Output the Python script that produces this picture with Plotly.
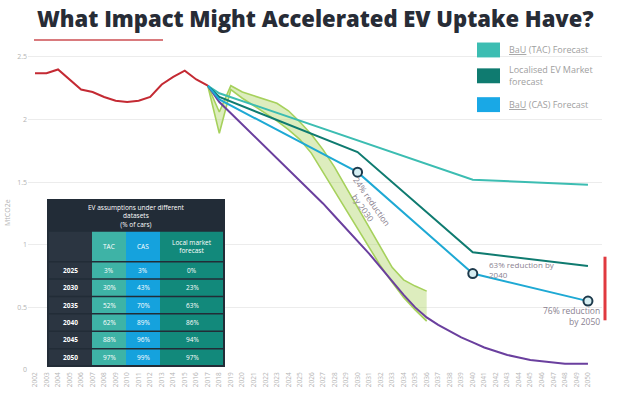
import plotly.graph_objects as go

# ---------------- data ----------------
years_axis = list(range(2002, 2051))

hist_years = list(range(2002, 2018))
hist_vals = [2.37, 2.37, 2.40, 2.32, 2.24, 2.22, 2.18, 2.15, 2.14, 2.15,
             2.18, 2.28, 2.34, 2.39, 2.32, 2.27]

tac_years = [2017, 2018, 2040, 2050]
tac_vals = [2.27, 2.21, 1.52, 1.48]

local_years = [2017, 2018, 2030, 2040, 2050]
local_vals = [2.27, 2.18, 1.74, 0.94, 0.83]

cas_years = [2017, 2018, 2030, 2040, 2050]
cas_vals = [2.27, 2.16, 1.58, 0.77, 0.55]

fast_years = list(range(2017, 2051))
fast_vals = [2.27, 2.14, 2.05, 1.96, 1.87, 1.78, 1.69, 1.60, 1.51, 1.42,
             1.33, 1.23, 1.13, 1.03, 0.93, 0.82, 0.71, 0.60, 0.50, 0.42,
             0.36, 0.31, 0.26, 0.22, 0.18, 0.15, 0.12, 0.10, 0.08, 0.07,
             0.06, 0.05, 0.05, 0.05]

band_years = list(range(2017, 2037))
band_hi = [2.27, 2.06, 2.27, 2.22, 2.19, 2.16, 2.13, 2.07, 1.98, 1.88,
           1.76, 1.62, 1.46, 1.30, 1.14, 0.99, 0.82, 0.72, 0.67, 0.63]
band_lo = [2.27, 1.89, 2.24, 2.17, 2.11, 2.05, 1.99, 1.92, 1.84, 1.73,
           1.58, 1.43, 1.28, 1.12, 0.97, 0.83, 0.70, 0.58, 0.48, 0.39]

milestone_years = [2030, 2040, 2050]
milestone_vals = [1.58, 0.77, 0.55]
milestone_text = ["24% reduction<br>by 2030", "63% reduction by<br>2040",
                  "76% reduction<br>by 2050"]

y_ticks = [0, 0.5, 1, 1.5, 2, 2.5]
y_tick_text = ["0", "0.5", "1", "1.5", "2", "2.5"]

table_years = ["2025", "2030", "2035", "2040", "2045", "2050"]
table_tac = ["3%", "30%", "52%", "62%", "88%", "97%"]
table_cas = ["3%", "43%", "70%", "89%", "96%", "99%"]
table_local = ["0%", "23%", "63%", "86%", "94%", "97%"]

legend_labels = ["<span style='text-decoration:underline'>BaU</span> (TAC) Forecast",
                 "Localised EV Market<br>forecast",
                 "<span style='text-decoration:underline'>BaU</span> (CAS) Forecast"]

# ---------------- colours ----------------
C_HIST = "#c42a33"
C_TAC = "#3cbdb2"
C_LOCAL = "#0f7b70"
C_CAS = "#1ea9d4"
C_CAS_SWATCH = "#19a8e6"
C_FAST = "#6a3f9e"
C_BAND_EDGE = "#a6d15c"
C_BAND_FILL = "rgba(180,215,110,0.45)"
C_TEXT = "#8a8290"
FONT = "Open Sans"

# ---------------- canvas geometry ----------------
W, H = 621, 399
ML, MR, MT, MB = 28, 19, 45, 27
PW, PH = W - ML - MR, H - MT - MB
X0_PX, PX_PER_YEAR = 35, 11.52
PX_PER_UNIT = 126.0
x_range = [2002 + (ML - X0_PX) / PX_PER_YEAR, 2002 + (W - MR - X0_PX) / PX_PER_YEAR]
y_range = [0, PH / PX_PER_UNIT]


def px(x):
    return (x - ML) / PW


def py(y):
    return (H - MB - y) / PH


fig = go.Figure()

# fast-uptake band
fig.add_trace(go.Scatter(x=band_years, y=band_hi, mode="lines",
                         line=dict(color=C_BAND_EDGE, width=1.6),
                         showlegend=False, hoverinfo="skip"))
fig.add_trace(go.Scatter(x=band_years, y=band_lo, mode="lines",
                         line=dict(color=C_BAND_EDGE, width=1.6),
                         fill="tonexty", fillcolor=C_BAND_FILL,
                         showlegend=False, hoverinfo="skip"))

fig.add_trace(go.Scatter(x=fast_years, y=fast_vals, mode="lines",
                         line=dict(color=C_FAST, width=2), showlegend=False))
fig.add_trace(go.Scatter(x=tac_years, y=tac_vals, mode="lines",
                         line=dict(color=C_TAC, width=2), showlegend=False))
fig.add_trace(go.Scatter(x=local_years, y=local_vals, mode="lines",
                         line=dict(color=C_LOCAL, width=2), showlegend=False))
fig.add_trace(go.Scatter(x=cas_years, y=cas_vals, mode="lines",
                         line=dict(color=C_CAS, width=2), showlegend=False))
fig.add_trace(go.Scatter(x=hist_years, y=hist_vals, mode="lines",
                         line=dict(color=C_HIST, width=2), showlegend=False))
fig.add_trace(go.Scatter(x=milestone_years, y=milestone_vals, mode="markers",
                         marker=dict(size=9, color="#d6eef2",
                                     line=dict(color="#1d3a4c", width=2)),
                         showlegend=False))

shapes = []
annotations = []


def label(x, y, text, size, color, xanchor="center", yanchor="middle",
          align="center", ref="paper", angle=0, weight=None):
    f = dict(family=FONT, size=size, color=color)
    if weight is not None:
        f["weight"] = weight
    annotations.append(dict(xref=ref, yref=ref, x=x, y=y, text=text,
                            showarrow=False, xanchor=xanchor, yanchor=yanchor,
                            align=align, textangle=angle, font=f))


# title and underline
label(px(315), py(18), "What Impact Might Accelerated EV Uptake Have?", 22,
      "#272c36", weight=800)
shapes.append(dict(type="line", xref="paper", yref="paper",
                   x0=px(34), x1=px(163), y0=py(40), y1=py(40),
                   line=dict(color="#d97a7d", width=2)))

# y-axis title
label(px(8), py(214), "MtCO2e", 7, "#b0b0b0", angle=-90)

# milestone labels (data coordinates)
label(2030.9, 1.32, milestone_text[0], 8.5, C_TEXT, angle=55)
label(2041.2, 0.80, milestone_text[1], 8, C_TEXT, xanchor="left", align="left")
label(2051.2, 0.43, milestone_text[2], 8.5, C_TEXT, xanchor="right", align="right")
for a in annotations[-3:]:
    a["xref"], a["yref"] = "x", "y"

# red marker bar at the right edge
shapes.append(dict(type="line", xref="paper", yref="paper",
                   x0=px(605), x1=px(605), y0=py(258), y1=py(322),
                   line=dict(color="#e0393f", width=3)))

# custom legend
legend_colors = [C_TAC, C_LOCAL, C_CAS_SWATCH]
legend_y = [50, 76, 105]
for col, yc, lab in zip(legend_colors, legend_y, legend_labels):
    shapes.append(dict(type="rect", xref="paper", yref="paper",
                       x0=px(477), x1=px(500), y0=py(yc - 7.5), y1=py(yc + 7.5),
                       fillcolor=col, line=dict(width=0)))
    label(px(507), py(yc), lab, 9, "#a0a0a0", xanchor="left", align="left")

# assumptions table
TX0, TX1 = 48, 224
TY0, TY_HEAD, TY_ROWS, TY1 = 201, 233, 263, 368
col_edges = [48, 92, 126, 160, 224]
col_fill = ["#2b3541", "#3eb3a6", "#15a2dd", "#12897b"]
dark = "#222c37"
shapes.append(dict(type="rect", xref="paper", yref="paper",
                   x0=px(TX0), x1=px(TX1), y0=py(TY0), y1=py(TY1),
                   fillcolor=dark, line=dict(width=0)))
for i in range(4):
    shapes.append(dict(type="rect", xref="paper", yref="paper",
                       x0=px(col_edges[i]), x1=px(col_edges[i + 1]),
                       y0=py(TY_HEAD), y1=py(TY1),
                       fillcolor=col_fill[i], line=dict(width=0)))
label(px((TX0 + TX1) / 2), py((TY0 + TY_HEAD) / 2),
      "EV assumptions under different<br>datasets<br>(% of cars)", 6.5, "white")
head_text = ["", "TAC", "CAS", "Local market<br>forecast"]
for i in range(1, 4):
    label(px((col_edges[i] + col_edges[i + 1]) / 2), py((TY_HEAD + TY_ROWS) / 2),
          head_text[i], 6.5, "white")
n_rows = len(table_years)
row_h = (TY1 - TY_ROWS) / n_rows
for r in range(n_rows):
    top = TY_ROWS + r * row_h
    shapes.append(dict(type="line", xref="paper", yref="paper",
                       x0=px(TX0), x1=px(TX1), y0=py(top), y1=py(top),
                       line=dict(color=dark, width=1.5)))
    cells = [table_years[r], table_tac[r], table_cas[r], table_local[r]]
    for i in range(4):
        label(px((col_edges[i] + col_edges[i + 1]) / 2), py(top + row_h / 2),
              ("<b>%s</b>" % cells[i]) if i == 0 else cells[i], 6.5, "white")
shapes.append(dict(type="rect", xref="paper", yref="paper",
                   x0=px(TX0), x1=px(TX1), y0=py(TY0), y1=py(TY1),
                   fillcolor="rgba(0,0,0,0)", line=dict(color=dark, width=2)))

fig.update_layout(
    width=W, height=H,
    margin=dict(l=ML, r=MR, t=MT, b=MB),
    paper_bgcolor="white", plot_bgcolor="white",
    shapes=shapes, annotations=annotations,
    xaxis=dict(range=x_range, tickmode="array", tickvals=years_axis,
               ticktext=[str(y) for y in years_axis], tickangle=-90,
               tickfont=dict(family=FONT, size=6.5, color="#b4b4b4"),
               showgrid=False, zeroline=False, showline=False, ticks=""),
    yaxis=dict(range=y_range, tickmode="array", tickvals=y_ticks,
               ticktext=y_tick_text,
               tickfont=dict(family=FONT, size=7, color="#b4b4b4"),
               showgrid=True, gridcolor="#ececec", gridwidth=1,
               zeroline=False, showline=False, ticks=""),
    font=dict(family=FONT),
)

fig.write_html("out.html")
